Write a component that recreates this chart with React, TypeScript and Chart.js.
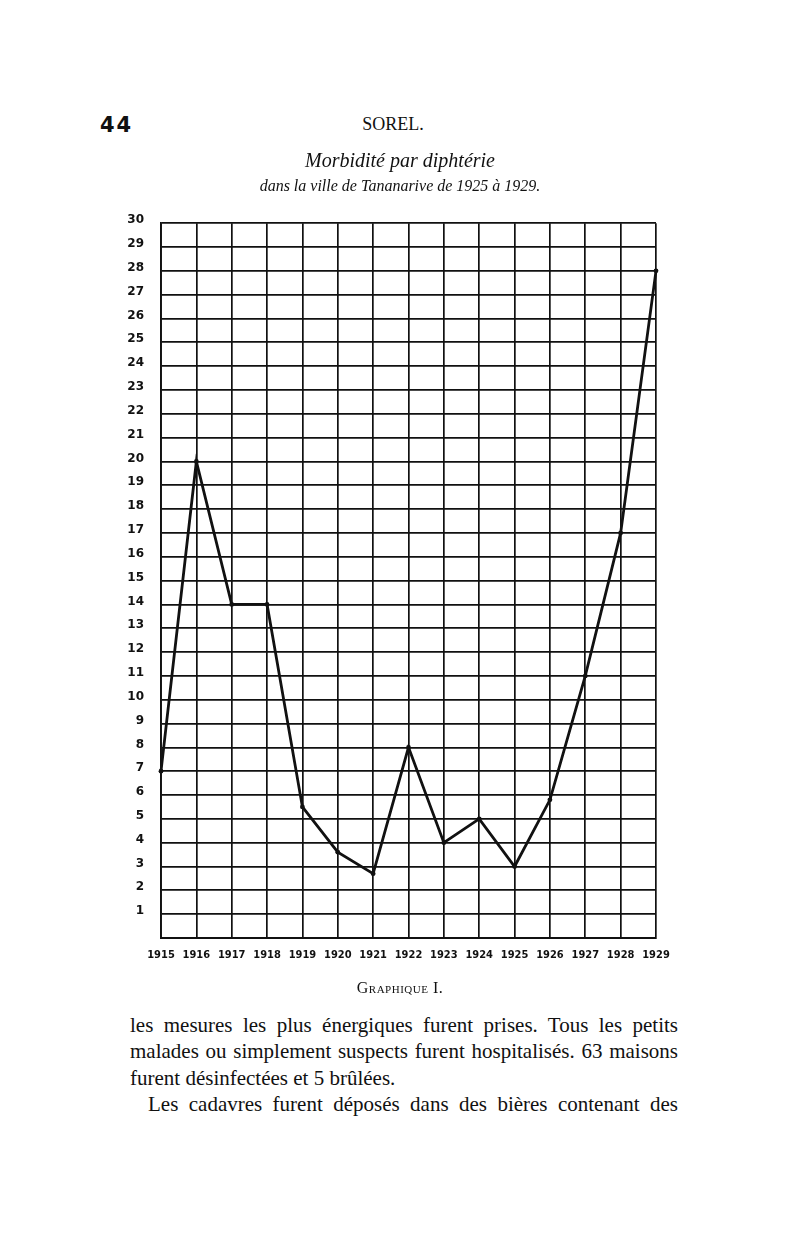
import { useEffect, useRef } from "react";
import { Chart, registerables } from "chart.js";

Chart.register(...registerables);

// ---- data ----
const years = [
  "1915", "1916", "1917", "1918", "1919", "1920", "1921", "1922",
  "1923", "1924", "1925", "1926", "1927", "1928", "1929",
];
const cases = [7, 20, 14, 14, 5.5, 3.6, 2.7, 8, 4, 5, 3, 5.8, 11, 17, 28];
const yMin = 0;
const yMax = 30;
const yStep = 1;

const chartTitle = "Morbidité par diphtérie";
const chartSubtitle = "dans la ville de Tananarive de 1925 à 1929.";
const pageNumber = "44";
const runningHead = "SOREL.";
const caption = "Graphique I.";
const bodyLines = [
  "les mesures les plus énergiques furent prises. Tous les petits",
  "malades ou simplement suspects furent hospitalisés. 63 maisons",
  "furent désinfectées et 5 brûlées.",
  "Les cadavres furent déposés dans des bières contenant des",
];

const INK = "#111111";
const SERIF = "'Liberation Serif', 'DejaVu Serif', serif";

export default function App() {
  const canvasRef = useRef<HTMLCanvasElement | null>(null);

  useEffect(() => {
    const canvas = canvasRef.current;
    if (!canvas) return;
    const chart = new Chart(canvas, {
      type: "line",
      data: {
        labels: years,
        datasets: [
          {
            data: cases,
            borderColor: INK,
            backgroundColor: INK,
            borderWidth: 2.8,
            pointRadius: 2.4,
            pointBackgroundColor: INK,
            pointBorderWidth: 0,
            tension: 0,
            fill: false,
          },
        ],
      },
      options: {
        responsive: false,
        animation: false,
        devicePixelRatio: 1,
        layout: { padding: { left: 101, right: 101, top: 0, bottom: 22 } },
        plugins: {
          legend: { display: false },
          tooltip: { enabled: false },
          title: {
            display: true,
            text: chartTitle,
            color: INK,
            font: { family: SERIF, style: "italic", size: 20, weight: "normal" },
            padding: { top: 150, bottom: 3 },
          },
          subtitle: {
            display: true,
            text: chartSubtitle,
            color: INK,
            font: { family: SERIF, style: "italic", size: 16, weight: "normal" },
            padding: { top: 0, bottom: 27 },
          },
        },
        scales: {
          x: {
            type: "category",
            offset: false,
            grid: { color: INK, lineWidth: 1.7, drawTicks: false, offset: false },
            border: { display: true, color: INK, width: 1.9 },
            ticks: {
              color: INK,
              autoSkip: false,
              maxRotation: 0,
              padding: 11,
              font: {
                family: "'DejaVu Sans Condensed', 'DejaVu Sans', sans-serif",
                weight: "bold",
                size: 11,
              },
            },
            afterFit: (s: any) => {
              s.height = 40;
            },
          },
          y: {
            min: yMin,
            max: yMax,
            grid: { color: INK, lineWidth: 1.7, drawTicks: false },
            border: { display: true, color: INK, width: 1.9 },
            ticks: {
              stepSize: yStep,
              autoSkip: false,
              color: INK,
              padding: 17,
              labelOffset: -3,
              font: { family: "'DejaVu Sans', sans-serif", weight: "bold", size: 12 },
              callback: (v: any) => (Number(v) === 0 ? "" : String(v)),
            },
            afterFit: (s: any) => {
              s.width = 60;
            },
          },
          // empty right-hand spacer so the titles centre on the page
          spacer: {
            type: "linear",
            position: "right",
            display: true,
            grid: { display: false, drawTicks: false },
            border: { display: false },
            ticks: { display: false },
            afterFit: (s: any) => {
              s.width = 43;
            },
          },
        },
      },
    });
    return () => chart.destroy();
  }, []);

  const lineStyle = (i: number): React.CSSProperties => ({
    position: "absolute",
    left: 130,
    width: 548,
    top: 1012 + i * 26.3,
    height: 26,
    lineHeight: "26px",
    fontFamily: SERIF,
    fontSize: 21,
    color: INK,
    textAlign: i === 2 ? "left" : "justify",
    textAlignLast: i === 2 ? "left" : "justify",
    textIndent: i === 3 ? 18 : 0,
    whiteSpace: "nowrap",
  });

  return (
    <div style={{ background: "#fff" }}>
      <div
        style={{
          position: "absolute",
          left: 0,
          top: 0,
          width: 800,
          height: 1245,
          background: "#fff",
        }}
      />
      <div
        style={{
          position: "absolute",
          left: 100,
          top: 113,
          fontFamily: "'DejaVu Sans', sans-serif",
          fontWeight: "bold",
          fontSize: 21,
          color: INK,
          letterSpacing: 2,
        }}
      >
        {pageNumber}
      </div>
      <div
        style={{
          position: "absolute",
          left: 293,
          width: 200,
          top: 114,
          textAlign: "center",
          fontFamily: SERIF,
          fontSize: 18,
          color: INK,
        }}
      >
        {runningHead}
      </div>
      <canvas
        ref={canvasRef}
        width={800}
        height={1000}
        style={{ position: "absolute", left: 0, top: 0, width: 800, height: 1000 }}
      />
      <div
        style={{
          position: "absolute",
          left: 300,
          width: 200,
          top: 979,
          textAlign: "center",
          fontFamily: SERIF,
          fontSize: 16,
          fontVariant: "small-caps",
          letterSpacing: 0.5,
          color: INK,
        }}
      >
        {caption}
      </div>
      {bodyLines.map((t, i) => (
        <div key={i} style={lineStyle(i)}>
          {t}
        </div>
      ))}
    </div>
  );
}
